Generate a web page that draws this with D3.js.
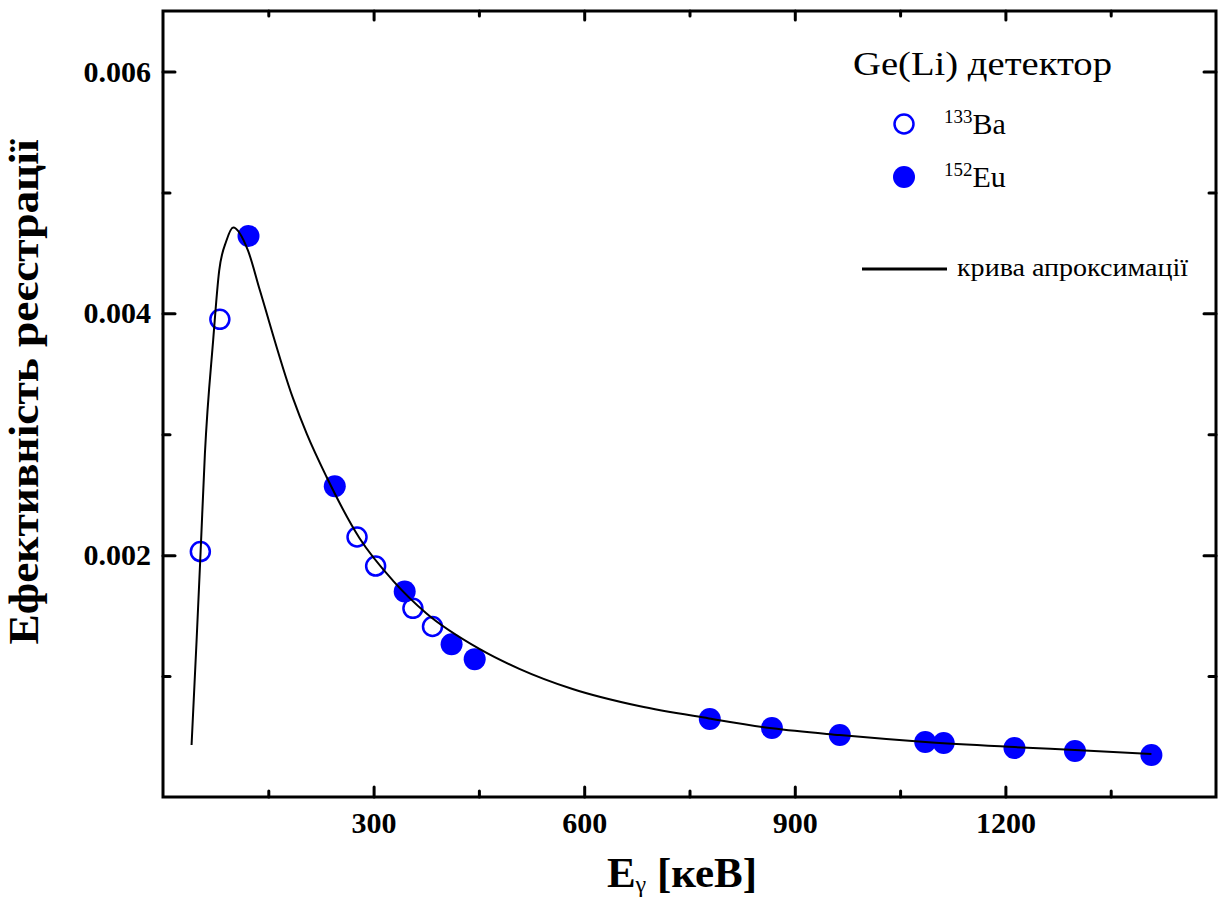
<!DOCTYPE html>
<html><head><meta charset="utf-8">
<script src="https://cdn.jsdelivr.net/npm/d3@7"></script>
<style>body{margin:0;background:#fff;} svg{display:block;}</style>
</head><body><svg id="c" width="1220" height="897"></svg>
<script>
// ---- data ----
const baEnergy = [53.2, 81.0, 276.4, 302.9, 356.0, 383.9];
const baEff    = [0.00203, 0.00395, 0.00215, 0.00191, 0.00156, 0.00141];
const euEnergy = [121.8, 244.7, 344.3, 411.1, 444.0, 778.9, 867.4, 964.1, 1085.8, 1112.1, 1212.9, 1299.1, 1408.0];
const euEff    = [0.00464, 0.00257, 0.00170, 0.001264, 0.00114, 0.000645, 0.00057, 0.000512, 0.000455, 0.000446, 0.000405, 0.00038, 0.000347];
const fitEnergy = [40.7, 47.9, 53.6, 59.7, 71.5, 80, 90.3, 100, 121, 138, 185, 205, 232.7, 280, 327.5, 375, 450.7, 507.6, 583.4, 678, 777.7, 867.7, 964, 1086, 1213, 1299, 1408];
const fitEff    = [0.00043, 0.0013, 0.00203, 0.00284, 0.00378, 0.00435, 0.0046, 0.00471, 0.00452, 0.00419, 0.0033, 0.0030, 0.00265, 0.00214, 0.00179, 0.00152, 0.001225, 0.00106, 0.000893, 0.000752, 0.00065, 0.000568, 0.000512, 0.000455, 0.000413, 0.000388, 0.000355];
const xMajorTicks = [300, 600, 900, 1200];
const xMinorTicks = [150, 450, 750, 1050, 1350];
const yMajorTicks = [0.002, 0.004, 0.006];
const yMinorTicks = [0.001, 0.003, 0.005];
const legendTitle = "Ge(Li) детектор";
const seriesIso = [{mass:"133", el:"Ba", open:true}, {mass:"152", el:"Eu", open:false}];
const fitLabel = "крива апроксимації";
const yTitle = "Ефективність реєстрації";

// ---- layout ----
const L = 163, R = 1216, T = 11, B = 797;
const blue = "#0000ff";
const svg = d3.select("#c");
const x = d3.scaleLinear().domain([0, 1500]).range([L, R]);
const y = d3.scaleLinear().domain([0, 0.0065]).range([B, T]);
const serif = "'Liberation Serif','Times New Roman',serif";

// frame
svg.append("rect").attr("x", L).attr("y", T).attr("width", R - L).attr("height", B - T)
  .attr("fill", "none").attr("stroke", "#000").attr("stroke-width", 3);

function styleAxis(g) {
  g.select(".domain").remove();
  g.selectAll("line").attr("stroke", "#000").attr("stroke-width", 3).attr("stroke-linecap", "round");
  g.selectAll("text").attr("font-family", serif).attr("font-weight", "bold").attr("font-size", 30).attr("fill", "#000");
}
// bottom
svg.append("g").attr("transform", `translate(0,${B})`)
  .call(d3.axisBottom(x).tickValues(xMajorTicks).tickSize(-10).tickPadding(15).tickFormat(d3.format("d")))
  .call(styleAxis);
svg.append("g").attr("transform", `translate(0,${B})`)
  .call(d3.axisBottom(x).tickValues(xMinorTicks).tickSize(-6).tickFormat("")).call(styleAxis);
// top
svg.append("g").attr("transform", `translate(0,${T})`)
  .call(d3.axisTop(x).tickValues(xMajorTicks).tickSize(-9).tickFormat("")).call(styleAxis);
svg.append("g").attr("transform", `translate(0,${T})`)
  .call(d3.axisTop(x).tickValues(xMinorTicks).tickSize(-5).tickFormat("")).call(styleAxis);
// left
svg.append("g").attr("transform", `translate(${L},0)`)
  .call(d3.axisLeft(y).tickValues(yMajorTicks).tickSize(-12).tickPadding(12).tickFormat(d3.format(".3f")))
  .call(styleAxis);
svg.append("g").attr("transform", `translate(${L},0)`)
  .call(d3.axisLeft(y).tickValues(yMinorTicks).tickSize(-7).tickFormat("")).call(styleAxis);
// right
svg.append("g").attr("transform", `translate(${R},0)`)
  .call(d3.axisRight(y).tickValues(yMajorTicks).tickSize(-12).tickFormat("")).call(styleAxis);
svg.append("g").attr("transform", `translate(${R},0)`)
  .call(d3.axisRight(y).tickValues(yMinorTicks).tickSize(-7).tickFormat("")).call(styleAxis);

// points
const ba = baEnergy.map((e, i) => ({e, v: baEff[i]}));
const eu = euEnergy.map((e, i) => ({e, v: euEff[i]}));
svg.append("g").selectAll("circle").data(eu).join("circle")
  .attr("cx", d => x(d.e)).attr("cy", d => y(d.v)).attr("r", 11).attr("fill", blue);
svg.append("g").selectAll("circle").data(ba).join("circle")
  .attr("cx", d => x(d.e)).attr("cy", d => y(d.v)).attr("r", 9.5)
  .attr("fill", "none").attr("stroke", blue).attr("stroke-width", 2.5);

// fit curve
const fit = fitEnergy.map((e, i) => ({e, v: fitEff[i]}));
svg.append("path").datum(fit)
  .attr("d", d3.line().x(d => x(d.e)).y(d => y(d.v)).curve(d3.curveMonotoneX))
  .attr("fill", "none").attr("stroke", "#000").attr("stroke-width", 2);

// legend
svg.append("text").attr("x", 853).attr("y", 75).attr("font-family", serif).attr("font-size", 34)
  .attr("textLength", 259).attr("lengthAdjust", "spacingAndGlyphs")
  .attr("fill", "#000").text(legendTitle);
seriesIso.forEach((s, i) => {
  const cy = 124 + i * 53;
  const c = svg.append("circle").attr("cx", 904).attr("cy", cy);
  if (s.open) c.attr("r", 9.5).attr("fill", "none").attr("stroke", blue).attr("stroke-width", 2.5);
  else c.attr("r", 11).attr("fill", blue);
  const t = svg.append("text").attr("x", 944).attr("y", cy + 10).attr("font-family", serif).attr("fill", "#000");
  t.append("tspan").attr("font-size", 19).attr("dy", -11).text(s.mass);
  t.append("tspan").attr("font-size", 30).attr("dy", 11).text(s.el);
});
svg.append("line").attr("x1", 862).attr("x2", 947).attr("y1", 269).attr("y2", 269)
  .attr("stroke", "#000").attr("stroke-width", 3);
svg.append("text").attr("x", 957).attr("y", 276).attr("font-family", serif).attr("font-size", 25)
  .attr("textLength", 231).attr("lengthAdjust", "spacingAndGlyphs")
  .attr("fill", "#000").text(fitLabel);

// axis titles
const xt = svg.append("text").attr("x", 682).attr("y", 887).attr("text-anchor", "middle")
  .attr("font-family", serif).attr("font-weight", "bold").attr("font-size", 43).attr("fill", "#000");
xt.append("tspan").text("E");
xt.append("tspan").attr("font-size", 24).attr("font-weight", "normal").attr("dy", 5).text("γ");
xt.append("tspan").attr("dy", -5).text(" [кеВ]");

svg.append("text").attr("transform", "translate(38,392) rotate(-90)").attr("text-anchor", "middle")
  .attr("font-family", serif).attr("font-weight", "bold").attr("font-size", 42)
  .attr("textLength", 505).attr("lengthAdjust", "spacingAndGlyphs").attr("fill", "#000")
  .text(yTitle);
</script></body></html>
